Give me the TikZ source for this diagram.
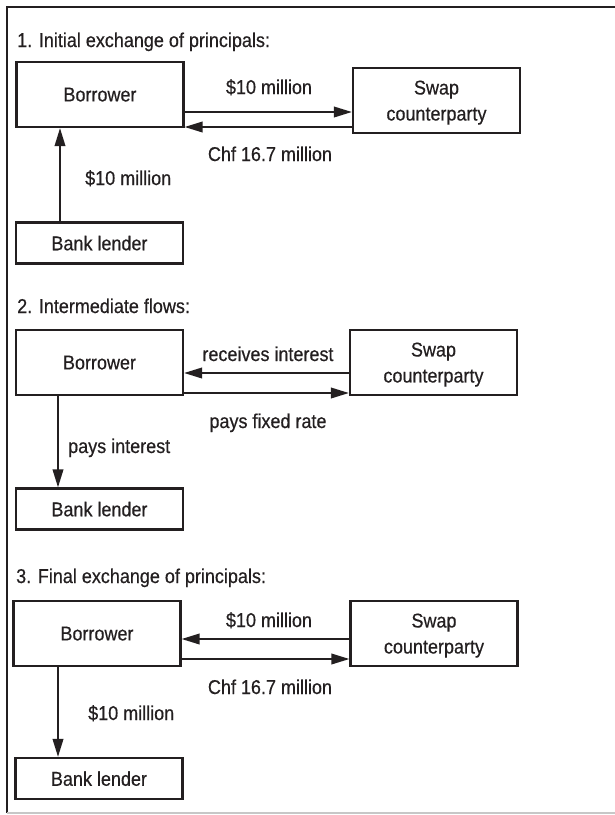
\documentclass[tikz,border=0pt]{standalone}
\usepackage{fontspec}
\setmainfont{Liberation Sans}[FakeStretch=0.9, FakeBold=0.5]
\usetikzlibrary{arrows.meta}
\definecolor{ink}{HTML}{231F20}
\begin{document}
\begin{tikzpicture}[x=1pt,y=-1pt,
  every node/.style={text=ink, font=\fontsize{20}{26}\selectfont},
  box/.style={draw=ink, line width=2.1pt, inner sep=0pt, align=center, text depth=0pt},
  partybox/.style={box, minimum width=167pt, minimum height=65pt},
  lenderbox/.style={box, minimum width=167pt, minimum height=41pt},
  flow/.style={draw=ink, line width=2pt, -{Triangle[length=18pt,width=10.5pt]}},
  heading/.style={anchor=base west, inner sep=0pt},
  lbl/.style={anchor=base, inner sep=0pt},
  lblw/.style={anchor=base west, inner sep=0pt}]
\useasboundingbox (0,0) rectangle (615,815);
% outer frame (open on the right)
\draw[ink, line width=2pt] (615,7) -- (7,7) -- (7,813);
\draw[black!22, line width=1.6pt] (7,813) -- (615,813);

% ---- 1. Initial exchange of principals
\node[heading] (t1) at (17,47) {1. Initial exchange of principals:};
\node[partybox] (B1) at (100,94.5) {Borrower};
\node[partybox] (S1) at (436.5,100.5) {Swap\\counterparty};
\node[lenderbox] (L1) at (99.5,243) {Bank lender};
\draw[flow] ([yshift=-17.5pt]B1.east) -- ([yshift=-11.5pt]S1.west);
\draw[flow] ([yshift=-26.5pt]S1.west) -- ([yshift=-32.5pt]B1.east);
\draw[flow] ([xshift=-39.5pt]L1.north) -- ([xshift=-40pt]B1.south);
\node[lbl] (a1) at (269,94) {\$10 million};
\node[lbl] (c1) at (270,161) {Chf 16.7 million};
\node[lblw] (d1) at (85,185) {\$10 million};

% ---- 2. Intermediate flows
\node[heading] (t2) at (17,313) {2. Intermediate flows:};
\node[partybox] (B2) at (99.5,362.5) {Borrower};
\node[partybox] (S2) at (433.5,362.5) {Swap\\counterparty};
\node[lenderbox] (L2) at (99.5,509) {Bank lender};
\draw[flow] ([yshift=-10.5pt]S2.west) -- ([yshift=-10.5pt]B2.east);
\draw[flow] ([yshift=-30.5pt]B2.east) -- ([yshift=-30.5pt]S2.west);
\draw[flow] ([xshift=-41.5pt]B2.south) -- ([xshift=-41.5pt]L2.north);
\node[lbl] (a2) at (268,361) {receives interest};
\node[lbl] (c2) at (268,428) {pays fixed rate};
\node[lblw] (d2) at (68,453) {pays interest};

% ---- 3. Final exchange of principals
\node[heading] (t3) at (16,583) {3. Final exchange of principals:};
\node[partybox] (B3) at (97,633.5) {Borrower};
\node[partybox] (S3) at (434,633.5) {Swap\\counterparty};
\node[lenderbox] (L3) at (99,778.5) {Bank lender};
\draw[flow] ([yshift=-5.5pt]S3.west) -- ([yshift=-5.5pt]B3.east);
\draw[flow] ([yshift=-25.5pt]B3.east) -- ([yshift=-25.5pt]S3.west);
\draw[flow] ([xshift=-39pt]B3.south) -- ([xshift=-41pt]L3.north);
\node[lbl] (a3) at (269,627) {\$10 million};
\node[lbl] (c3) at (270,694) {Chf 16.7 million};
\node[lblw] (d3) at (88,720) {\$10 million};
\end{tikzpicture}
\end{document}
